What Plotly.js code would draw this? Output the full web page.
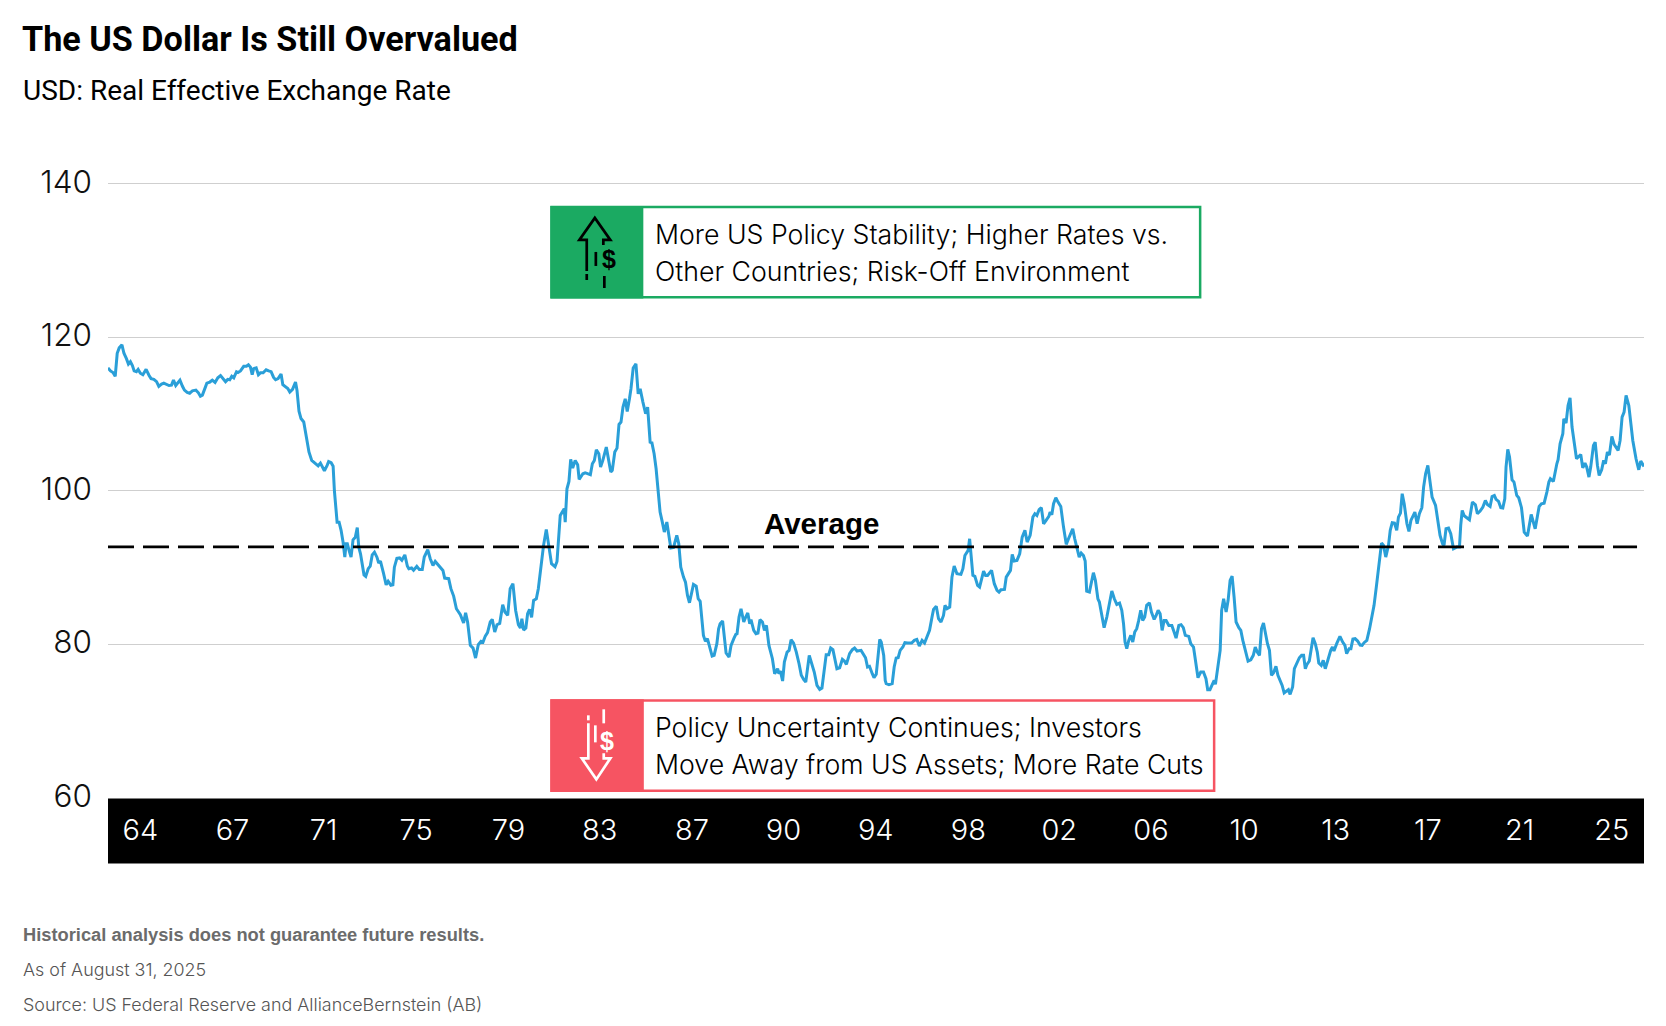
<!DOCTYPE html>
<html>
<head>
<meta charset="utf-8">
<script src="https://cdn.plot.ly/plotly-3.0.1.min.js"></script>
<style>html,body{margin:0;padding:0;background:#fff;overflow:hidden}#chart{width:1666px;height:1026px}</style>
</head>
<body>
<div id="chart"></div>
<script>
const years = [
1964.0,1964.1,1964.2,1964.29,1964.37,1964.45,1964.56,1964.64,1964.74,1964.82,1964.9,1964.98,1965.05,1965.14,1965.21,1965.3,1965.4,1965.53,1965.65,1965.73,1965.84,1965.95,1966.04,1966.15,1966.24,1966.35,1966.45,1966.55,1966.63,1966.72,1966.82,1966.89,1966.99,1967.07,1967.18,1967.28,1967.39,1967.53,1967.63,1967.71,1967.79,1967.9,1967.97,1968.09,1968.19,1968.3,1968.41,1968.52,1968.62,1968.72,1968.81,1968.89,1968.97,1969.05,1969.16,1969.22,1969.32,1969.45,1969.56,1969.64,1969.72,1969.79,1969.85,1969.95,1970.04,1970.12,1970.23,1970.35,1970.45,1970.55,1970.65,1970.73,1970.83,1970.95,1971.02,1971.14,1971.22,1971.3,1971.41,1971.53,1971.59,1971.67,1971.75,1971.86,1971.97,1972.07,1972.18,1972.33,1972.44,1972.53,1972.62,1972.69,1972.8,1972.86,1972.96,1973.04,1973.09,1973.15,1973.2,1973.28,1973.36,1973.44,1973.51,1973.56,1973.61,1973.68,1973.76,1973.84,1973.93,1974.01,1974.07,1974.14,1974.21,1974.28,1974.35,1974.45,1974.53,1974.61,1974.7,1974.8,1974.87,1974.94,1975.06,1975.17,1975.25,1975.36,1975.44,1975.5,1975.6,1975.71,1975.8,1975.92,1976.02,1976.08,1976.19,1976.27,1976.4,1976.5,
1976.54,1976.62,1976.7,1976.84,1976.94,1977.05,1977.14,1977.28,1977.45,1977.52,1977.68,1977.77,1977.88,1977.99,1978.15,1978.28,1978.36,1978.44,1978.55,1978.66,1978.76,1978.87,1978.98,1979.06,1979.15,1979.24,1979.35,1979.43,1979.53,1979.62,1979.73,1979.85,1979.94,1980.05,1980.15,1980.26,1980.37,1980.48,1980.56,1980.62,1980.69,1980.78,1980.85,1980.93,1981.01,1981.09,1981.2,1981.28,1981.38,1981.49,1981.6,1981.69,1981.81,1981.95,1982.03,1982.16,1982.24,1982.32,1982.36,1982.43,1982.51,1982.58,1982.66,1982.76,1982.86,1982.92,1983.07,1983.16,1983.23,1983.37,1983.45,1983.53,1983.61,1983.71,1983.78,1983.87,1984.01,1984.11,1984.19,1984.25,1984.35,1984.44,1984.52,1984.6,1984.68,1984.77,1984.85,1984.94,1985.0,1985.09,1985.2,1985.29,1985.37,1985.48,1985.59,1985.67,1985.77,1985.84,1985.93,1986.01,1986.09,1986.17,1986.26,1986.34,1986.44,1986.55,1986.6,1986.71,1986.84,1986.92,1987.0,1987.11,1987.19,1987.27,1987.35,1987.51,1987.62,1987.7,1987.78,1987.91,1987.99,1988.07,1988.18,1988.26,1988.34,1988.45,1988.52,1988.58,1988.68,1988.74,1988.82,1988.94,
1989.02,1989.13,1989.21,1989.26,1989.34,1989.42,1989.53,1989.61,1989.69,1989.77,1989.82,1989.93,1990.02,1990.1,1990.18,1990.28,1990.36,1990.44,1990.54,1990.68,1990.77,1990.89,1990.94,1991.0,1991.09,1991.16,1991.27,1991.35,1991.43,1991.53,1991.64,1991.75,1991.84,1991.94,1992.02,1992.16,1992.27,1992.36,1992.47,1992.58,1992.67,1992.76,1992.84,1992.94,1993.02,1993.11,1993.21,1993.27,1993.38,1993.49,1993.57,1993.65,1993.78,1993.89,1993.98,1994.08,1994.24,1994.34,1994.42,1994.5,1994.58,1994.69,1994.76,1994.85,1994.92,1994.99,1995.05,1995.15,1995.21,1995.25,1995.36,1995.49,1995.57,1995.65,1995.73,1995.81,1995.92,1996.0,1996.11,1996.27,1996.38,1996.48,1996.58,1996.69,1996.79,1996.89,1996.99,1997.09,1997.15,1997.26,1997.35,1997.45,1997.55,1997.61,1997.69,1997.8,1997.89,1997.98,1998.09,1998.25,1998.33,1998.41,1998.54,1998.6,1998.68,1998.73,1998.81,1998.92,1999.0,1999.16,1999.24,1999.32,1999.48,1999.59,1999.7,1999.78,1999.86,2000.0,2000.07,2000.15,2000.24,2000.31,2000.39,2000.5,2000.61,2000.71,2000.82,2000.91,2001.03,2001.14,2001.22,2001.3,2001.39,
2001.48,2001.57,2001.67,2001.78,2001.83,2001.9,2001.97,2002.06,2002.15,2002.26,2002.37,2002.48,2002.57,2002.65,2002.74,2002.82,2002.93,2003.0,2003.08,2003.17,2003.24,2003.3,2003.41,2003.49,2003.57,2003.65,2003.75,2003.81,2003.91,2004.0,2004.11,2004.21,2004.31,2004.41,2004.51,2004.62,2004.71,2004.78,2004.84,2004.91,2004.99,2005.07,2005.15,2005.23,2005.31,2005.39,2005.47,2005.55,2005.63,2005.71,2005.82,2005.9,2006.01,2006.09,2006.17,2006.25,2006.33,2006.41,2006.49,2006.6,2006.72,2006.81,2006.89,2007.0,2007.09,2007.18,2007.26,2007.4,2007.48,2007.59,2007.67,2007.77,2007.88,2007.99,2008.09,2008.16,2008.25,2008.34,2008.42,2008.47,2008.58,2008.66,2008.72,2008.8,2008.9,2008.98,2009.06,2009.14,2009.22,2009.3,2009.41,2009.49,2009.57,2009.67,2009.78,2009.89,2009.99,2010.07,2010.15,2010.24,2010.32,2010.4,2010.48,2010.56,2010.64,2010.72,2010.8,2010.9,2010.98,2011.06,2011.15,2011.23,2011.33,2011.4,2011.47,2011.57,2011.64,2011.73,2011.84,2011.93,2012.01,2012.08,2012.14,2012.24,2012.34,2012.39,2012.48,2012.56,2012.62,2012.72,2012.8,2012.88,2012.99,2013.1,2013.17,2013.23,2013.34,2013.47,2013.58,2013.67,2013.74,2013.84,
2013.91,2013.99,2014.08,2014.18,2014.28,2014.36,2014.44,2014.55,2014.66,2014.76,2014.84,2014.93,2015.01,2015.09,2015.14,2015.22,2015.31,2015.42,2015.49,2015.57,2015.66,2015.75,2015.82,2015.9,2015.97,2016.05,2016.16,2016.24,2016.32,2016.48,2016.57,2016.66,2016.76,2016.83,2016.91,2017.0,2017.07,2017.17,2017.31,2017.39,2017.49,2017.59,2017.65,2017.73,2017.83,2017.92,2018.03,2018.16,2018.27,2018.32,2018.38,2018.46,2018.56,2018.67,2018.79,2018.91,2018.99,2019.1,2019.21,2019.31,2019.39,2019.5,2019.58,2019.67,2019.74,2019.84,2019.93,2020.01,2020.09,2020.14,2020.21,2020.28,2020.38,2020.46,2020.57,2020.65,2020.76,2020.87,2021.0,2021.15,2021.31,2021.47,2021.56,2021.67,2021.78,2021.86,2021.92,2022.04,2022.18,2022.23,2022.31,2022.42,2022.46,2022.55,2022.63,2022.71,2022.79,2022.89,2022.97,2023.14,2023.22,2023.31,2023.38,2023.47,2023.54,2023.65,2023.72,2023.81,2023.88,2023.98,2024.06,2024.13,2024.21,2024.29,2024.39,2024.48,2024.64,2024.72,2024.8,2024.88,2024.96,2025.07,2025.15,2025.23,2025.36,2025.47,2025.55,2025.68];
const reer = [
116.0,115.6,115.4,114.9,117.9,118.6,119.0,117.9,117.2,116.5,116.8,116.3,115.6,115.5,115.8,115.3,115.1,115.8,115.0,114.6,114.5,114.2,113.6,113.9,114.0,113.8,113.7,113.75,114.4,113.7,114.1,114.4,113.6,113.1,112.8,112.7,113.0,113.1,112.75,112.3,112.45,113.4,114.0,114.15,114.4,114.1,114.7,115.0,114.6,114.2,114.5,114.45,114.9,114.7,115.5,115.4,115.6,116.2,116.2,116.4,116.1,115.1,115.9,116.0,115.1,115.35,115.35,115.75,115.6,115.5,114.75,114.45,114.6,115.2,113.8,113.45,113.3,112.85,113.2,114.15,113.05,110.35,109.4,108.95,106.8,105.05,103.95,103.6,103.25,103.6,102.9,102.6,103.3,103.8,103.65,103.2,100.05,97.45,95.9,95.9,94.85,93.3,91.35,93.1,93.1,92.25,91.35,93.6,93.95,95.2,92.65,91.8,90.3,89.05,88.85,89.85,90.2,91.65,92.0,91.35,90.6,90.85,89.3,87.75,88.2,87.7,87.75,90.05,91.2,91.25,90.95,91.65,90.2,89.85,89.95,89.65,90.15,89.75,
89.76,89.76,91.37,92.32,91.15,90.28,90.8,90.28,89.63,88.63,88.55,87.25,86.29,84.64,83.86,82.78,84.12,82.91,79.87,79.52,78.22,79.96,80.39,80.3,81.08,81.52,82.91,83.25,81.6,82.56,82.73,85.16,84.21,83.77,87.25,87.9,84.42,82.56,82.13,83.34,81.87,82.13,83.99,84.56,83.51,85.73,85.94,87.25,90.28,92.89,94.97,92.89,90.5,90.11,90.8,96.79,97.22,97.66,95.92,100.26,101.21,104.08,102.95,103.95,103.38,101.48,102.21,102.34,102.26,102.08,103.51,103.95,105.34,104.82,103.08,103.95,105.68,103.73,102.43,102.65,105.03,105.55,108.63,108.94,110.89,111.97,110.33,111.97,113.28,115.97,116.53,112.62,113.28,111.54,110.02,110.89,106.33,106.25,104.82,102.86,99.39,97.22,95.92,94.62,95.92,93.32,92.54,92.62,94.19,93.1,90.07,88.76,88.11,86.38,85.42,87.81,87.59,85.94,85.6,81.17,80.39,80.74,79.22,78.48,78.57,80.09,82.04,82.69,83.04,81.17,78.87,78.35,
79.87,80.74,81.3,81.39,83.56,84.64,82.91,83.56,84.08,82.69,83.21,81.82,81.39,81.47,83.21,82.91,81.82,82.47,79.87,78.13,76.18,76.83,76.18,76.53,75.23,77.7,79.0,79.22,80.61,80.17,79.0,77.48,75.97,75.4,75.1,78.57,77.48,76.4,74.66,74.14,74.32,76.62,78.66,78.66,79.52,79.31,77.92,76.83,76.96,78.05,77.83,77.4,78.79,79.31,79.52,79.13,79.22,78.57,78.26,77.05,77.14,76.18,75.66,76.1,78.79,80.65,80.3,78.57,75.31,74.88,74.75,74.88,77.05,78.22,78.26,79.22,79.65,80.22,80.17,80.17,80.52,80.65,79.78,80.52,80.17,81.04,81.82,83.56,84.56,84.95,83.34,82.91,83.77,85.08,84.64,84.86,88.76,90.2,89.2,89.11,89.85,91.58,92.23,93.75,90.93,88.98,88.85,87.68,87.46,89.54,88.98,88.98,89.63,87.9,87.03,86.81,87.11,87.16,88.76,89.11,89.63,91.71,90.85,90.93,91.8,93.97,94.84,93.32,94.19,96.57,97.01,96.79,97.53,
97.79,95.7,96.14,96.66,97.22,96.88,98.31,99.09,98.52,97.96,95.27,93.02,93.75,94.4,95.05,93.75,92.45,91.37,91.89,91.58,90.85,86.94,86.81,88.33,89.33,88.33,85.94,85.51,83.77,82.17,83.56,85.08,86.94,85.94,85.21,85.38,84.43,82.69,80.3,79.44,80.52,81.17,80.3,81.6,82.04,83.12,84.43,83.12,83.56,85.08,85.42,84.21,83.25,83.77,84.43,83.99,81.82,83.12,83.12,82.47,82.47,81.6,80.82,82.47,82.56,82.17,81.17,81.04,80.09,79.65,77.92,75.66,76.4,76.4,75.53,74.1,74.1,74.75,75.31,74.79,77.48,79.22,84.43,85.94,84.21,85.73,88.33,88.89,86.16,82.91,82.17,81.82,80.52,79.22,77.83,78.0,78.57,79.65,79.0,78.57,82.04,82.78,81.17,80.09,79.22,75.97,76.27,77.14,75.97,75.31,74.66,73.67,73.93,74.1,73.49,74.45,76.83,77.48,78.26,78.57,78.57,76.83,77.35,77.83,79.87,80.87,80.09,79.0,77.57,77.27,77.92,76.83,78.0,79.22,79.65,79.13,80.09,81.04,80.3,79.87,78.79,79.44,
79.44,80.69,80.74,80.43,79.91,79.87,80.22,80.52,82.04,83.56,85.08,87.46,89.63,91.58,93.19,92.89,91.37,92.89,94.84,95.84,95.79,94.84,96.57,97.09,99.61,98.31,95.7,94.71,96.14,97.22,95.7,97.01,97.79,100.48,102.21,103.3,101.34,99.18,98.09,96.14,94.19,93.1,92.89,95.05,95.14,94.4,92.45,92.67,92.67,95.49,97.44,96.75,96.49,96.23,98.52,98.18,97.01,97.35,97.87,98.74,98.22,97.96,99.26,99.39,98.87,98.61,97.79,97.74,98.96,103.08,105.38,104.38,101.43,101.13,99.39,99.09,97.79,94.62,94.1,96.92,95.05,97.96,98.31,98.39,99.83,101.13,101.56,101.21,103.51,104.03,106.12,107.42,109.37,108.81,111.11,112.1,108.29,105.9,104.16,104.73,102.99,103.6,103.08,101.78,103.08,105.9,106.33,103.3,102.0,102.73,103.95,103.51,105.03,104.64,107.07,106.03,105.25,106.55,109.59,110.24,112.41,111.11,108.94,106.55,104.16,102.73,103.86,103.17];
const averageYears = [1964.0, 2025.4];
const averageValue = [92.7, 92.7];
const yTicks = [60, 80, 100, 120, 140];
const xLabels = ['64','67','71','75','79','83','87','90','94','98','02','06','10','13','17','21','25'];
const xLabelAt = [1965.3,1969.0,1972.66,1976.37,1980.08,1983.74,1987.45,1991.12,1994.83,1998.55,2002.2,2005.88,2009.62,2013.3,2017.0,2020.68,2024.38];

const W = 1666, H = 1026, L = 107.5, R = 1644, T = 182.1, B = 797.6;
const px = x => (x - L) / (R - L);
const py = y => (B - y) / (B - T);
const seg = pts => 'M' + pts.map(p => px(p[0]) + ' ' + py(p[1])).join(' L');
const SANS = '"Liberation Sans", Arial, sans-serif';
const LIGHT = 'Inter, ' + SANS;
const GREEN = '#1BAA62', RED = '#F65462';

function rect(x0, y0, x1, y1, fill, line, lw) {
  return {type:'rect', xref:'paper', yref:'paper', x0:px(x0), x1:px(x1), y0:py(y1), y1:py(y0),
    fillcolor:fill, line:{color:line || fill, width:lw || 0}, layer:'above'};
}
function stroke(pts, color) {
  return {type:'path', xref:'paper', yref:'paper', path:seg(pts), line:{color:color, width:2.7}, layer:'above'};
}
function note(x, y, text, font, opts) {
  return Object.assign({xref:'paper', yref:'paper', x:px(x), y:py(y), text:text, showarrow:false,
    xanchor:'left', yanchor:'middle', font:font}, opts || {});
}
const callout = {family:LIGHT, size:26.7, weight:300, color:'#000'};
const footRegular = {family:LIGHT, size:17.9, weight:300, color:'#555'};

const shapes = [
  {type:'rect', xref:'paper', yref:'paper', x0:0, x1:1, y0:py(798), y1:py(863), fillcolor:'#000', line:{width:0}, layer:'below'},
  rect(551.2, 207.2, 1200, 297.3, '#fff', GREEN, 2.5),
  rect(550, 206, 643, 298.5, GREEN),
  rect(551.2, 700.2, 1214, 790.3, '#fff', RED, 2.5),
  rect(550, 699, 643.5, 791.5, RED),
  stroke([[586.4,271],[586.4,240],[579,240],[594.5,218],[610,240],[603,240],[603,245]], '#000'),
  stroke([[586.4,274],[586.4,280]], '#000'),
  stroke([[595.5,252],[595.5,266]], '#000'),
  stroke([[604,276],[604,288]], '#000'),
  stroke([[588,723],[588,758],[581.5,758],[596,779],[610,758],[603.4,758],[603.4,753]], '#fff'),
  stroke([[588,715],[588,720]], '#fff'),
  stroke([[595,725],[595,742]], '#fff'),
  stroke([[603.4,709],[603.4,723]], '#fff')
];

const annotations = [
  note(20.5, 91, 'USD: Real Effective Exchange Rate', {family:'Roboto, '+SANS, size:28, color:'#000'}),
  note(821, 523, '<b>Average</b>', {family:SANS, size:29.5, color:'#000'}, {xanchor:'center'}),
  note(652.5, 234, 'More US Policy Stability; Higher Rates vs.', callout),
  note(652.5, 271, 'Other Countries; Risk-Off Environment', callout),
  note(652.5, 727, 'Policy Uncertainty Continues; Investors', callout),
  note(652.5, 764, 'Move Away from US Assets; More Rate Cuts', callout),
  note(609, 259, '<b>$</b>', {family:SANS, size:25, color:'#000'}, {xanchor:'center'}),
  note(606.5, 741, '<b>$</b>', {family:SANS, size:25, color:'#fff'}, {xanchor:'center'}),
  note(20, 934, '<b>Historical analysis does not guarantee future results.</b>', {family:SANS, size:18.3, color:'#6b6b6b'}),
  note(20, 968.5, 'As of August 31, 2025', footRegular),
  note(20, 1003.5, 'Source: US Federal Reserve and AllianceBernstein (AB)', footRegular)
];

const traces = [
  {x:years, y:reer, type:'scatter', mode:'lines', line:{color:'#2A9FD8', width:3}, hoverinfo:'x+y', showlegend:false},
  {x:averageYears, y:averageValue, type:'scatter', mode:'lines', line:{color:'#000', width:2.8, dash:'26px,9px'}, hoverinfo:'y', showlegend:false}
];

const layout = {
  width:W, height:H, paper_bgcolor:'#fff', plot_bgcolor:'#fff', showlegend:false,
  margin:{l:L, r:W-R, t:T, b:H-B, pad:0},
  title:{text:'<b>The US Dollar Is Still Overvalued</b>', x:22/W, xref:'container', xanchor:'left',
         y:1-39.5/H, yref:'container', yanchor:'middle', font:{family:'Roboto, '+SANS, size:34.2, color:'#000'}},
  xaxis:{type:'linear', range:[1964, 2025.68], tickmode:'array', tickvals:xLabelAt, ticktext:xLabels,
         showgrid:false, zeroline:false, showline:false, ticks:'', ticklabelstandoff:12, tickangle:0,
         tickfont:{family:LIGHT, size:29, weight:300, color:'#fff'}},
  yaxis:{range:[60, 140.195], tickmode:'array', tickvals:yTicks, ticktext:yTicks.map(String),
         showgrid:true, gridcolor:'#cfcfcf', gridwidth:1.2, zeroline:false, showline:false, ticks:'',
         ticklabelstandoff:15, ticklabelshift:-2, tickfont:{family:LIGHT, size:31.5, weight:300, color:'#111'}},
  shapes:shapes, annotations:annotations
};
Plotly.newPlot('chart', traces, layout, {displayModeBar:false, staticPlot:true});
</script>
</body>
</html>
